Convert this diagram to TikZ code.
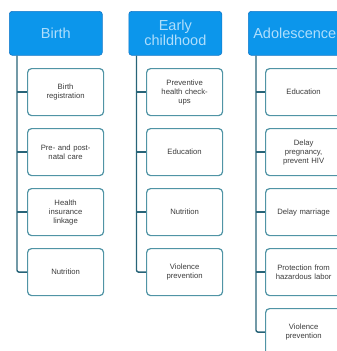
\documentclass[tikz,border=0pt]{standalone}
\usepackage{fontspec}
\setmainfont{Liberation Sans}
\definecolor{hdrfill}{RGB}{12,150,235}
\definecolor{hdrdraw}{RGB}{20,120,200}
\definecolor{hdrtext}{RGB}{175,222,252}
\definecolor{boxdraw}{RGB}{80,148,165}
\definecolor{conncol}{RGB}{40,100,120}
\definecolor{txtcol}{RGB}{60,60,60}
\begin{document}
\begin{tikzpicture}[x=1pt,y=-1pt,
  hdr/.style={draw=hdrdraw, line width=0.6pt, fill=hdrfill, rounded corners=3pt,
    minimum width=93pt, minimum height=44pt, anchor=north west, inner sep=1pt,
    text=hdrtext, font=\fontsize{14.5}{15}\selectfont, align=center},
  kid/.style={draw=boxdraw, line width=1.2pt, fill=white, rounded corners=4pt,
    minimum width=76pt, minimum height=47pt, anchor=north west, inner sep=1pt,
    text width=74pt, align=center, text=txtcol, font=\fontsize{7.7}{9}\selectfont},
  conn/.style={draw=conncol, line width=1.4pt, rounded corners=2pt}]
\useasboundingbox (0,0) rectangle (337,351);
\clip (0,0) rectangle (337,351);
% Column 1
\node[hdr] (h1) at (9,11) {Birth};
\node[kid] (a1) at (27,68) {Birth\\registration};
\node[kid] (a2) at (27,128) {Pre- and post-\\natal care};
\node[kid] (a3) at (27,188) {Health\\insurance\\linkage};
\node[kid] (a4) at (27,248) {Nutrition};
\coordinate (t1) at ([xshift=8pt]h1.south west);
\draw[conn] (t1) |- (a4.west);
\foreach \c in {a1,a2,a3} \draw[conn] (\c.west -| t1) -- (\c.west);
% Column 2
\node[hdr] (h2) at (128.5,11) {Early\\childhood};
\node[kid] (b1) at (146,68) {Preventive\\health check-\\ups};
\node[kid] (b2) at (146,128) {Education};
\node[kid] (b3) at (146,188) {Nutrition};
\node[kid] (b4) at (146,248) {Violence\\prevention};
\coordinate (t2) at ([xshift=8pt]h2.south west);
\draw[conn] (t2) |- (b4.west);
\foreach \c in {b1,b2,b3} \draw[conn] (\c.west -| t2) -- (\c.west);
% Column 3
\node[hdr] (h3) at (248,11) {Adolescence};
\node[kid] (c1) at (265,68) {Education};
\node[kid] (c2) at (265,128) {Delay\\pregnancy,\\prevent HIV};
\node[kid] (c3) at (265,188) {Delay marriage};
\node[kid] (c4) at (265,248) {Protection from\\hazardous labor};
\node[kid] (c5) at (265,308) {Violence\\prevention};
\coordinate (t3) at ([xshift=8pt]h3.south west);
\draw[conn] (t3) |- (c5.west);
\foreach \c in {c1,c2,c3,c4} \draw[conn] (\c.west -| t3) -- (\c.west);
\end{tikzpicture}
\end{document}
